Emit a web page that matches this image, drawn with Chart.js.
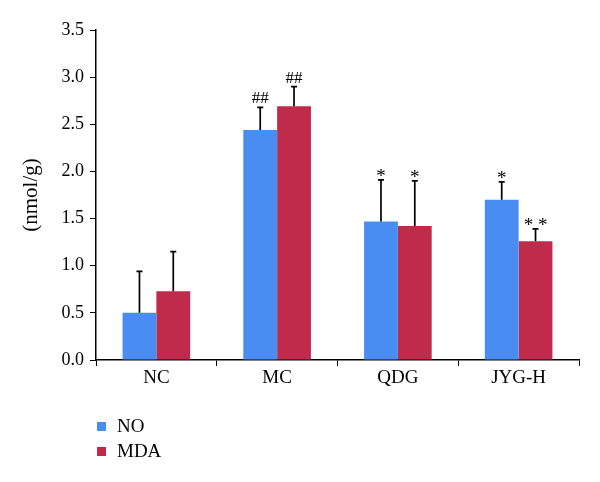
<!DOCTYPE html>
<html>
<head>
<meta charset="utf-8">
<script src="https://cdn.jsdelivr.net/npm/chart.js@4.4.0/dist/chart.umd.min.js"></script>
<style>
  body { margin: 0; background: #fff; }
  #wrap { width: 600px; height: 482px; }
</style>
</head>
<body>
<div id="wrap"><canvas id="grafico" width="600" height="482"></canvas></div>
<script>
// datos
var categorias = ['NC', 'MC', 'QDG', 'JYG-H'];
var valoresNO = [0.50, 2.44, 1.47, 1.70];
var erroresNO = [0.44, 0.24, 0.44, 0.19];
var valoresMDA = [0.73, 2.69, 1.42, 1.26];
var erroresMDA = [0.42, 0.21, 0.48, 0.13];
var marcasNO = ['', '##', '*', '*'];
var marcasMDA = ['', '##', '*', '* *'];
var ticksY = [0, 0.5, 1.0, 1.5, 2.0, 2.5, 3.0, 3.5];

var fuente = "'Liberation Serif', 'DejaVu Serif', serif";

// barras de error (solo hacia arriba) y marcas de significancia
var barrasError = {
    id: 'barrasError',
    afterDatasetsDraw: function(chart) {
        var ctx = chart.ctx;
        var escalaY = chart.scales.y;
        chart.data.datasets.forEach(function(ds, i) {
            var meta = chart.getDatasetMeta(i);
            meta.data.forEach(function(bar, j) {
                var tope = escalaY.getPixelForValue(ds.data[j] + ds.errores[j]);
                ctx.save();
                ctx.strokeStyle = '#000';
                ctx.lineWidth = 1.7;
                ctx.beginPath();
                ctx.moveTo(bar.x, bar.y);
                ctx.lineTo(bar.x, tope);
                ctx.moveTo(bar.x - 3, tope);
                ctx.lineTo(bar.x + 3, tope);
                ctx.stroke();
                var txt = ds.marcas[j];
                if (txt) {
                    ctx.fillStyle = '#000';
                    ctx.font = (txt.indexOf('#') >= 0 ? '17px ' : '19px ') + fuente;
                    ctx.textAlign = 'center';
                    ctx.textBaseline = 'alphabetic';
                    // la parte baja del glifo queda ~4px sobre la tapa
                    var m = ctx.measureText(txt);
                    ctx.fillText(txt, bar.x, tope - 4 - m.actualBoundingBoxDescent);
                }
                ctx.restore();
            });
        });
    }
};

// leyenda vertical abajo a la izquierda
var leyenda = {
    id: 'leyenda',
    afterDraw: function(chart) {
        var ctx = chart.ctx;
        var x0 = chart.chartArea.left + 1;
        var y0 = chart.chartArea.bottom + 66;
        chart.data.datasets.forEach(function(ds, i) {
            var y = y0 + i * 25;
            ctx.save();
            ctx.fillStyle = ds.backgroundColor;
            ctx.fillRect(x0, y - 4, 9, 9);
            ctx.fillStyle = '#000';
            ctx.font = '19px ' + fuente;
            ctx.textBaseline = 'middle';
            ctx.fillText(ds.label, x0 + 20, y + 1);
            ctx.restore();
        });
    }
};

var ctx = document.getElementById('grafico').getContext('2d');
var grafico = new Chart(ctx, {
    type: 'bar',
    data: {
        labels: categorias,
        datasets: [{
            label: 'NO',
            data: valoresNO,
            errores: erroresNO,
            marcas: marcasNO,
            backgroundColor: '#4a8df2'
        }, {
            label: 'MDA',
            data: valoresMDA,
            errores: erroresMDA,
            marcas: marcasMDA,
            backgroundColor: '#c12b4b'
        }]
    },
    options: {
        responsive: false,
        animation: false,
        categoryPercentage: 0.56,
        barPercentage: 1.0,
        layout: { padding: { left: 0, right: 21, top: 30, bottom: 82 } },
        plugins: {
            legend: { display: false },
            tooltip: { enabled: false }
        },
        scales: {
            x: {
                grid: { drawOnChartArea: false, offset: true, tickLength: 6, tickColor: '#000' },
                border: { color: '#000', width: 1.5 },
                ticks: { color: '#000', font: { family: fuente, size: 19 }, padding: 1 },
                afterFit: function(s) { s.height = 40; }
            },
            y: {
                min: 0,
                max: 3.5,
                afterBuildTicks: function(s) {
                    s.ticks = ticksY.map(function(v) { return { value: v }; });
                },
                grid: { drawOnChartArea: false, tickLength: 6, tickColor: '#000' },
                border: { color: '#000', width: 1.5 },
                ticks: {
                    color: '#000',
                    font: { family: fuente, size: 18 },
                    padding: 6,
                    callback: function(v) { return Number(v).toFixed(1); }
                },
                title: {
                    display: true,
                    text: '(nmol/g)',
                    color: '#000',
                    font: { family: fuente, size: 21 },
                    padding: { top: 19, bottom: 0 }
                },
                afterFit: function(s) { s.width = 96; }
            }
        }
    },
    plugins: [barrasError, leyenda]
});
</script>
</body>
</html>
